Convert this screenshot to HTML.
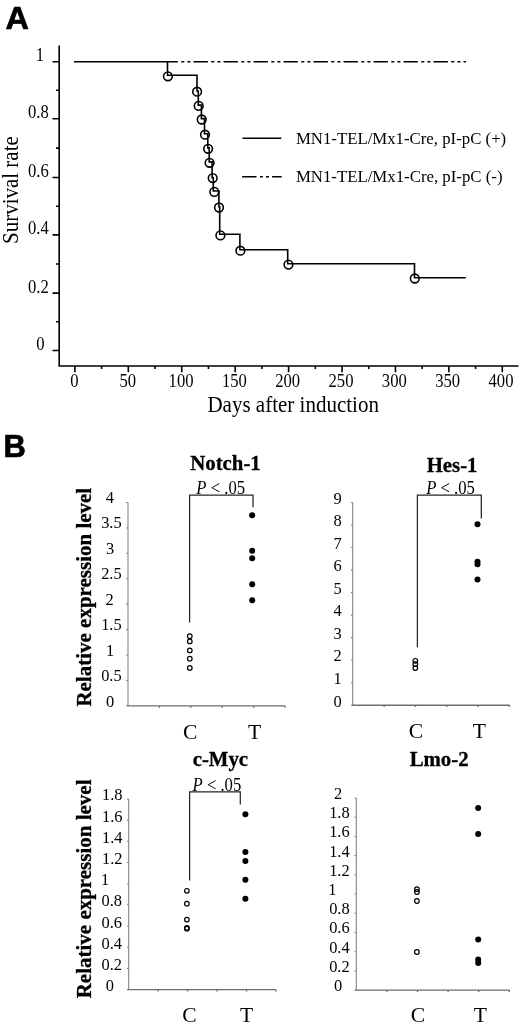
<!DOCTYPE html>
<html lang="en"><head><meta charset="utf-8"><title>Figure</title>
<style>
html,body{margin:0;padding:0;background:#fff;}
svg{display:block;}
text{font-family:"Liberation Serif", serif;fill:#000;}
.b{font-weight:bold;stroke:#000;stroke-width:0.3px;}
.i{font-style:italic;}
.pl{font-family:"Liberation Sans", sans-serif;font-weight:bold;font-size:30.9px;stroke:#000;stroke-width:0.7px;stroke-linejoin:round;}
.ln{stroke:#000;fill:none;}
</style></head><body>
<svg width="520" height="1025" viewBox="0 0 520 1025">
<rect x="0" y="0" width="520" height="1025" fill="#fff"/>
<text class="pl" transform="translate(5.55 28.75) scale(1.05 1)">A</text>
<g class="ln" stroke-width="1.6">
<path d="M59.2 45.5V366H518.5"/>
<path d="M52.5 350.50H59.2M56 321.80H59.2M52.5 293.10H59.2M56 264.00H59.2M52.5 234.90H59.2M56 206.20H59.2M52.5 177.50H59.2M56 148.10H59.2M52.5 118.70H59.2M56 90.25H59.2M52.5 61.80H59.2M74.90 366V372.3M101.61 366V369M128.32 366V372.3M155.04 366V369M181.75 366V372.3M208.46 366V369M235.18 366V372.3M261.89 366V369M288.60 366V372.3M315.31 366V369M342.02 366V372.3M368.74 366V369M395.45 366V372.3M422.16 366V369M448.88 366V372.3M475.59 366V369M502.30 366V372.3"/>
</g>
<text transform="translate(39.90 61.30) scale(0.925 1)" font-size="18.0" text-anchor="middle">1</text>
<text transform="translate(38.40 118.20) scale(0.925 1)" font-size="18.0" text-anchor="middle">0.8</text>
<text transform="translate(38.40 177.00) scale(0.925 1)" font-size="18.0" text-anchor="middle">0.6</text>
<text transform="translate(38.40 234.40) scale(0.925 1)" font-size="18.0" text-anchor="middle">0.4</text>
<text transform="translate(38.40 292.60) scale(0.925 1)" font-size="18.0" text-anchor="middle">0.2</text>
<text transform="translate(40.40 350.00) scale(0.925 1)" font-size="18.0" text-anchor="middle">0</text>
<text transform="translate(74.40 386.60) scale(0.925 1)" font-size="18.0" text-anchor="middle">0</text>
<text transform="translate(127.72 386.60) scale(0.925 1)" font-size="18.0" text-anchor="middle">50</text>
<text transform="translate(181.05 386.60) scale(0.925 1)" font-size="18.0" text-anchor="middle">100</text>
<text transform="translate(234.38 386.60) scale(0.925 1)" font-size="18.0" text-anchor="middle">150</text>
<text transform="translate(287.70 386.60) scale(0.925 1)" font-size="18.0" text-anchor="middle">200</text>
<text transform="translate(341.02 386.60) scale(0.925 1)" font-size="18.0" text-anchor="middle">250</text>
<text transform="translate(394.35 386.60) scale(0.925 1)" font-size="18.0" text-anchor="middle">300</text>
<text transform="translate(447.68 386.60) scale(0.925 1)" font-size="18.0" text-anchor="middle">350</text>
<text transform="translate(501.00 386.60) scale(0.925 1)" font-size="18.0" text-anchor="middle">400</text>
<text x="207.4" y="412" font-size="22.5" textLength="171.6" lengthAdjust="spacingAndGlyphs">Days after induction</text>
<text transform="translate(18.3 244) rotate(-90)" font-size="22.6" textLength="107.8" lengthAdjust="spacingAndGlyphs">Survival rate</text>
<path class="ln" stroke-width="1.6" stroke-dasharray="14.4 3.4 3 3.1 3 3.1" stroke-dashoffset="3.5" d="M167 61.8H466"/>
<path class="ln" stroke-width="1.6" stroke-linejoin="miter" d="M74 61.8H167.5V75.3H197.0V91.0H198.3V105.1H201.4V118.6H204.5V133.8H207.8V147.9H209.2V161.9H212.1V177.6H213.3V191.0H218.9V206.8H219.7V234.3H239.9V249.8H287.7V263.8H414.5V277.7H465.8"/>
<circle class="ln" stroke-width="1.6" cx="167.9" cy="76.3" r="4.35"/>
<circle class="ln" stroke-width="1.6" cx="197.1" cy="91.7" r="4.35"/>
<circle class="ln" stroke-width="1.6" cx="198.7" cy="105.9" r="4.35"/>
<circle class="ln" stroke-width="1.6" cx="201.7" cy="119.5" r="4.35"/>
<circle class="ln" stroke-width="1.6" cx="205.0" cy="134.7" r="4.35"/>
<circle class="ln" stroke-width="1.6" cx="208.1" cy="148.8" r="4.35"/>
<circle class="ln" stroke-width="1.6" cx="209.6" cy="162.8" r="4.35"/>
<circle class="ln" stroke-width="1.6" cx="212.7" cy="178.1" r="4.35"/>
<circle class="ln" stroke-width="1.6" cx="214.3" cy="191.9" r="4.35"/>
<circle class="ln" stroke-width="1.6" cx="219.0" cy="207.5" r="4.35"/>
<circle class="ln" stroke-width="1.6" cx="220.4" cy="235.4" r="4.35"/>
<circle class="ln" stroke-width="1.6" cx="240.4" cy="250.7" r="4.35"/>
<circle class="ln" stroke-width="1.6" cx="288.5" cy="264.6" r="4.35"/>
<circle class="ln" stroke-width="1.6" cx="414.8" cy="278.5" r="4.35"/>
<path class="ln" stroke-width="1.6" d="M242.5 138.3H281.3"/>
<path class="ln" stroke-width="1.65" stroke-dasharray="14.4 3.4 3 3.1 3 3.1" d="M242.1 176.7H281.7"/>
<text x="295.9" y="144.4" font-size="16.3" textLength="210.3" lengthAdjust="spacingAndGlyphs">MN1-TEL/Mx1-Cre, pI-pC (+)</text>
<text x="295.9" y="182.1" font-size="16.3" textLength="206.6" lengthAdjust="spacingAndGlyphs">MN1-TEL/Mx1-Cre, pI-pC (-)</text>
<text class="pl" x="3.5" y="456.8">B</text>
<path class="ln" style="stroke:#808080" stroke-width="1.05" d="M128.0 502.5V705.8M126.2 705.8H128.0M126.2 680.4H128.0M126.2 655.0H128.0M126.2 629.6H128.0M126.2 604.1H128.0M126.2 578.7H128.0M126.2 553.3H128.0M126.2 527.9H128.0M126.2 502.5H128.0"/>
<path class="ln" style="stroke:#6e6e6e" stroke-width="1.35" d="M127.5 705.8H285.0M159.4 705.8V707.7M190.8 705.8V707.7M222.2 705.8V707.7M253.6 705.8V707.7M285.0 705.8V707.7"/>
<text transform="translate(110.00 706.50) scale(0.945 1)" font-size="17.4" text-anchor="middle">0</text>
<text transform="translate(111.40 681.00) scale(0.945 1)" font-size="17.4" text-anchor="middle">0.5</text>
<text transform="translate(110.00 655.50) scale(0.945 1)" font-size="17.4" text-anchor="middle">1</text>
<text transform="translate(111.40 630.00) scale(0.945 1)" font-size="17.4" text-anchor="middle">1.5</text>
<text transform="translate(109.70 604.50) scale(0.945 1)" font-size="17.4" text-anchor="middle">2</text>
<text transform="translate(111.40 579.00) scale(0.945 1)" font-size="17.4" text-anchor="middle">2.5</text>
<text transform="translate(110.00 553.50) scale(0.945 1)" font-size="17.4" text-anchor="middle">3</text>
<text transform="translate(111.40 528.00) scale(0.945 1)" font-size="17.4" text-anchor="middle">3.5</text>
<text transform="translate(109.90 502.50) scale(0.945 1)" font-size="17.4" text-anchor="middle">4</text>
<text class="b" x="225.5" y="469.8" font-size="20.8" text-anchor="middle">Notch-1</text>
<text x="190.1" y="738.6" font-size="21.6" text-anchor="middle">C</text>
<text x="254.6" y="738.6" font-size="21.6" text-anchor="middle">T</text>
<circle class="ln" stroke-width="1.2" cx="189.8" cy="636.2" r="2.3"/>
<circle class="ln" stroke-width="1.2" cx="189.8" cy="641.4" r="2.3"/>
<circle class="ln" stroke-width="1.2" cx="189.8" cy="650.4" r="2.3"/>
<circle class="ln" stroke-width="1.2" cx="189.8" cy="658.7" r="2.3"/>
<circle class="ln" stroke-width="1.2" cx="189.8" cy="667.9" r="2.3"/>
<circle cx="252.2" cy="515.2" r="3.0" fill="#000"/>
<circle cx="252.2" cy="550.7" r="3.0" fill="#000"/>
<circle cx="252.2" cy="558.2" r="3.0" fill="#000"/>
<circle cx="252.2" cy="584.3" r="3.0" fill="#000"/>
<circle cx="252.2" cy="600.3" r="3.0" fill="#000"/>
<path class="ln" style="stroke:#262626" stroke-width="1.25" d="M189.6 622.4V495.0H253.0V507.2"/>
<text transform="translate(220.70 493.60) scale(0.915 1)" font-size="18.2" text-anchor="middle"><tspan class="i">P</tspan> &lt; .05</text>
<path class="ln" style="stroke:#808080" stroke-width="1.05" d="M352.7 502.5V705.2M350.9 705.2H352.7M350.9 682.7H352.7M350.9 660.2H352.7M350.9 637.6H352.7M350.9 615.1H352.7M350.9 592.6H352.7M350.9 570.1H352.7M350.9 547.5H352.7M350.9 525.0H352.7M350.9 502.5H352.7"/>
<path class="ln" style="stroke:#6e6e6e" stroke-width="1.35" d="M352.2 705.2H509.5M384.1 705.2V707.1M415.4 705.2V707.1M446.8 705.2V707.1M478.1 705.2V707.1M509.5 705.2V707.1"/>
<text transform="translate(337.50 706.50) scale(0.945 1)" font-size="17.4" text-anchor="middle">0</text>
<text transform="translate(337.50 683.98) scale(0.945 1)" font-size="17.4" text-anchor="middle">1</text>
<text transform="translate(337.50 661.46) scale(0.945 1)" font-size="17.4" text-anchor="middle">2</text>
<text transform="translate(337.50 638.93) scale(0.945 1)" font-size="17.4" text-anchor="middle">3</text>
<text transform="translate(337.50 616.41) scale(0.945 1)" font-size="17.4" text-anchor="middle">4</text>
<text transform="translate(337.50 593.89) scale(0.945 1)" font-size="17.4" text-anchor="middle">5</text>
<text transform="translate(337.50 571.37) scale(0.945 1)" font-size="17.4" text-anchor="middle">6</text>
<text transform="translate(337.50 548.84) scale(0.945 1)" font-size="17.4" text-anchor="middle">7</text>
<text transform="translate(337.50 526.32) scale(0.945 1)" font-size="17.4" text-anchor="middle">8</text>
<text transform="translate(337.50 503.80) scale(0.945 1)" font-size="17.4" text-anchor="middle">9</text>
<text class="b" x="452.1" y="472.4" font-size="20.8" text-anchor="middle">Hes-1</text>
<text x="415.9" y="738.2" font-size="21.6" text-anchor="middle">C</text>
<text x="479.3" y="738.2" font-size="21.6" text-anchor="middle">T</text>
<circle class="ln" stroke-width="1.2" cx="415.3" cy="660.8" r="2.3"/>
<circle class="ln" stroke-width="1.2" cx="415.3" cy="664.2" r="2.3"/>
<circle class="ln" stroke-width="1.2" cx="415.3" cy="668.1" r="2.3"/>
<circle cx="477.5" cy="524.2" r="3.0" fill="#000"/>
<circle cx="477.5" cy="561.7" r="3.0" fill="#000"/>
<circle cx="477.5" cy="564.3" r="3.0" fill="#000"/>
<circle cx="477.5" cy="579.4" r="3.0" fill="#000"/>
<path class="ln" style="stroke:#262626" stroke-width="1.25" d="M417.4 647.2V495.1H481.3V518.6"/>
<text transform="translate(450.50 493.70) scale(0.915 1)" font-size="18.2" text-anchor="middle"><tspan class="i">P</tspan> &lt; .05</text>
<path class="ln" style="stroke:#808080" stroke-width="1.05" d="M128.7 798.9V989.6M126.9 989.6H128.7M126.9 968.4H128.7M126.9 947.2H128.7M126.9 926.0H128.7M126.9 904.8H128.7M126.9 883.7H128.7M126.9 862.5H128.7M126.9 841.3H128.7M126.9 820.1H128.7M126.9 798.9H128.7"/>
<path class="ln" style="stroke:#6e6e6e" stroke-width="1.35" d="M128.2 989.6H276.0M158.2 989.6V991.5M187.6 989.6V991.5M217.1 989.6V991.5M246.5 989.6V991.5M276.0 989.6V991.5"/>
<text transform="translate(109.90 991.10) scale(0.945 1)" font-size="17.4" text-anchor="middle">0</text>
<text transform="translate(111.70 969.91) scale(0.945 1)" font-size="17.4" text-anchor="middle">0.2</text>
<text transform="translate(111.70 948.72) scale(0.945 1)" font-size="17.4" text-anchor="middle">0.4</text>
<text transform="translate(111.70 927.53) scale(0.945 1)" font-size="17.4" text-anchor="middle">0.6</text>
<text transform="translate(111.70 906.34) scale(0.945 1)" font-size="17.4" text-anchor="middle">0.8</text>
<text transform="translate(105.00 885.16) scale(0.945 1)" font-size="17.4" text-anchor="middle">1</text>
<text transform="translate(112.30 863.97) scale(0.945 1)" font-size="17.4" text-anchor="middle">1.2</text>
<text transform="translate(112.30 842.78) scale(0.945 1)" font-size="17.4" text-anchor="middle">1.4</text>
<text transform="translate(112.30 821.59) scale(0.945 1)" font-size="17.4" text-anchor="middle">1.6</text>
<text transform="translate(112.30 800.40) scale(0.945 1)" font-size="17.4" text-anchor="middle">1.8</text>
<text class="b" x="220.4" y="765.8" font-size="20.8" text-anchor="middle">c-Myc</text>
<text x="189.4" y="1022.0" font-size="21.6" text-anchor="middle">C</text>
<text x="246.7" y="1022.0" font-size="21.6" text-anchor="middle">T</text>
<circle class="ln" stroke-width="1.2" cx="186.9" cy="890.8" r="2.3"/>
<circle class="ln" stroke-width="1.2" cx="186.9" cy="903.7" r="2.3"/>
<circle class="ln" stroke-width="1.2" cx="186.9" cy="919.6" r="2.3"/>
<circle class="ln" stroke-width="1.2" cx="186.9" cy="927.9" r="2.3"/>
<circle class="ln" stroke-width="1.2" cx="186.9" cy="928.7" r="2.3"/>
<circle cx="245.4" cy="814.2" r="3.0" fill="#000"/>
<circle cx="245.4" cy="852.1" r="3.0" fill="#000"/>
<circle cx="245.4" cy="861.0" r="3.0" fill="#000"/>
<circle cx="245.4" cy="879.7" r="3.0" fill="#000"/>
<circle cx="245.4" cy="898.8" r="3.0" fill="#000"/>
<path class="ln" style="stroke:#262626" stroke-width="1.25" d="M189.6 880.4V791.8H240.3V804.4"/>
<text transform="translate(216.90 790.80) scale(0.915 1)" font-size="18.2" text-anchor="middle"><tspan class="i">P</tspan> &lt; .05</text>
<path class="ln" style="stroke:#808080" stroke-width="1.05" d="M356.3 798.0V990.1M354.5 990.1H356.3M354.5 970.9H356.3M354.5 951.7H356.3M354.5 932.5H356.3M354.5 913.3H356.3M354.5 894.0H356.3M354.5 874.8H356.3M354.5 855.6H356.3M354.5 836.4H356.3M354.5 817.2H356.3M354.5 798.0H356.3"/>
<path class="ln" style="stroke:#6e6e6e" stroke-width="1.35" d="M355.8 990.1H509.3M386.9 990.1V992.0M417.5 990.1V992.0M448.1 990.1V992.0M478.7 990.1V992.0M509.3 990.1V992.0"/>
<text transform="translate(338.20 991.10) scale(0.945 1)" font-size="17.4" text-anchor="middle">0</text>
<text transform="translate(339.40 971.89) scale(0.945 1)" font-size="17.4" text-anchor="middle">0.2</text>
<text transform="translate(339.40 952.68) scale(0.945 1)" font-size="17.4" text-anchor="middle">0.4</text>
<text transform="translate(339.40 933.47) scale(0.945 1)" font-size="17.4" text-anchor="middle">0.6</text>
<text transform="translate(339.40 914.26) scale(0.945 1)" font-size="17.4" text-anchor="middle">0.8</text>
<text transform="translate(332.40 895.05) scale(0.945 1)" font-size="17.4" text-anchor="middle">1</text>
<text transform="translate(339.40 875.84) scale(0.945 1)" font-size="17.4" text-anchor="middle">1.2</text>
<text transform="translate(339.40 856.63) scale(0.945 1)" font-size="17.4" text-anchor="middle">1.4</text>
<text transform="translate(339.40 837.42) scale(0.945 1)" font-size="17.4" text-anchor="middle">1.6</text>
<text transform="translate(339.40 818.21) scale(0.945 1)" font-size="17.4" text-anchor="middle">1.8</text>
<text transform="translate(338.00 799.00) scale(0.945 1)" font-size="17.4" text-anchor="middle">2</text>
<text class="b" x="439.1" y="766.2" font-size="20.8" text-anchor="middle">Lmo-2</text>
<text x="418.0" y="1022.0" font-size="21.6" text-anchor="middle">C</text>
<text x="480.4" y="1022.0" font-size="21.6" text-anchor="middle">T</text>
<circle class="ln" stroke-width="1.2" cx="416.9" cy="889.2" r="2.3"/>
<circle class="ln" stroke-width="1.2" cx="416.9" cy="892.0" r="2.3"/>
<circle class="ln" stroke-width="1.2" cx="416.9" cy="901.0" r="2.3"/>
<circle class="ln" stroke-width="1.2" cx="416.9" cy="952.0" r="2.3"/>
<circle cx="478.2" cy="808.1" r="3.0" fill="#000"/>
<circle cx="478.2" cy="834.1" r="3.0" fill="#000"/>
<circle cx="478.2" cy="939.4" r="3.0" fill="#000"/>
<circle cx="478.2" cy="959.5" r="3.0" fill="#000"/>
<circle cx="478.2" cy="963.1" r="3.0" fill="#000"/>
<text class="b" transform="translate(91.4 706.6) rotate(-90)" font-size="22" textLength="218.8" lengthAdjust="spacingAndGlyphs">Relative expression level</text>
<text class="b" transform="translate(91.4 998.3) rotate(-90)" font-size="22" textLength="218.8" lengthAdjust="spacingAndGlyphs">Relative expression level</text>
</svg></body></html>
